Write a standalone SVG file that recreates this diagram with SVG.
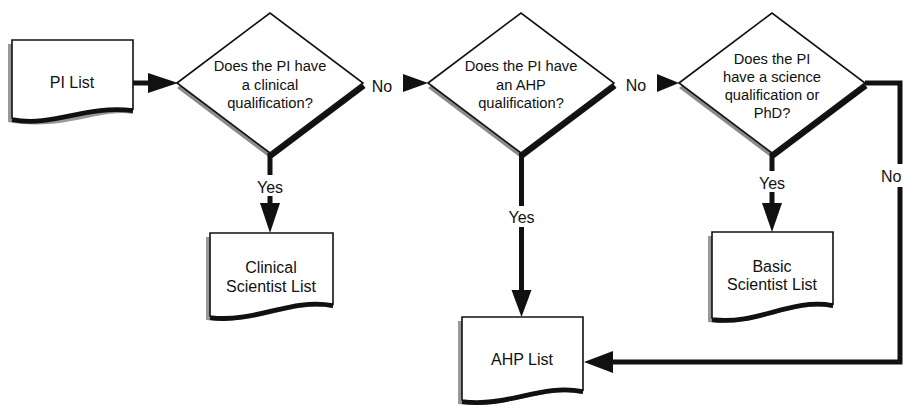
<svg xmlns="http://www.w3.org/2000/svg" width="903" height="406" viewBox="0 0 903 406">
<style>
text{font-family:"Liberation Sans",Arial,sans-serif;fill:#111;text-anchor:middle}
.q{font-size:14.7px}
.t{font-size:16px}
.lbl{font-size:16px}
.dshadow{fill:#8a8a8a}
.dedge{fill:none;stroke:#111;stroke-width:5}
.shape{fill:#fff;stroke:#111;stroke-width:1.6}
.docshadow{fill:#999}
.wave{fill:none;stroke:#111;stroke-width:4}
.line{fill:none;stroke:#111;stroke-width:5}
.head{fill:#111}
</style>
<rect width="903" height="406" fill="#fff"/>

<g id="pi-list">
<path class="docshadow" d="M8,44 H133 V114 C100,108 65,132 8,122 Z"/>
<path class="shape" d="M12,40 H133 V109 C85,103 54,126 12,118 Z"/>
<path class="wave" d="M133,111 C85,105 54,128 12,120"/>
<text class="t" x="72" y="88">PI List</text>
</g>

<g id="decision-clinical">
<polygon class="dshadow" points="177,88 270,158 363,88 270,18"/>
<line class="dedge" x1="364" y1="86" x2="271" y2="156"/>
<polygon class="shape" points="177,83 270,13 363,83 270,153"/>
<text class="q" x="270" y="71">Does the PI have</text>
<text class="q" x="270" y="89.5">a clinical</text>
<text class="q" x="270" y="108">qualification?</text>
</g>

<g id="decision-ahp">
<polygon class="dshadow" points="428,88 521,158 614,88 521,18"/>
<line class="dedge" x1="615" y1="86" x2="522" y2="156"/>
<polygon class="shape" points="428,83 521,13 614,83 521,153"/>
<text class="q" x="521" y="71">Does the PI have</text>
<text class="q" x="521" y="89.5">an AHP</text>
<text class="q" x="521" y="108">qualification?</text>
</g>

<g id="decision-science">
<polygon class="dshadow" points="679,88 772,158 865,88 772,18"/>
<line class="dedge" x1="866" y1="86" x2="773" y2="156"/>
<polygon class="shape" points="679,83 772,13 865,83 772,153"/>
<text class="q" x="772" y="63.5">Does the PI</text>
<text class="q" x="772" y="81.7">have a science</text>
<text class="q" x="772" y="100">qualification or</text>
<text class="q" x="772" y="118">PhD?</text>
</g>

<g id="clinical-list">
<path class="docshadow" d="M206,237 H333 V308 C290,300 260,326 206,320 Z"/>
<path class="shape" d="M210,233 H333 V304 C290,296 255,322 210,316 Z"/>
<path class="wave" d="M333,306 C290,298 255,324 210,318"/>
<text class="t" x="271" y="273">Clinical</text>
<text class="t" x="271" y="291.5">Scientist List</text>
</g>

<g id="ahp-list">
<path class="docshadow" d="M458,321 H583 V394 C540,386 510,410 458,404 Z"/>
<path class="shape" d="M462,317 H583 V390 C540,382 508,406 462,400 Z"/>
<path class="wave" d="M583,392 C540,384 508,408 462,402"/>
<text class="t" x="522" y="365">AHP List</text>
</g>

<g id="basic-list">
<path class="docshadow" d="M708,236 H833 V308 C790,300 760,328 708,322 Z"/>
<path class="shape" d="M712,232 H833 V304 C790,296 758,324 712,318 Z"/>
<path class="wave" d="M833,306 C790,298 758,326 712,320"/>
<text class="t" x="772" y="271.7">Basic</text>
<text class="t" x="772" y="290">Scientist List</text>
</g>

<g id="connectors">
<line class="line" x1="133" y1="83" x2="150" y2="83"/>
<polygon class="head" points="148,73 178,83 148,93"/>

<text class="lbl" x="382" y="91.5">No</text>
<polygon class="head" points="403,74 428,83 403,92"/>

<text class="lbl" x="636" y="90.5">No</text>
<polygon class="head" points="657,74 679,83 657,92"/>

<line class="line" x1="270" y1="153" x2="270" y2="175"/>
<text class="lbl" x="270" y="193">Yes</text>
<line class="line" x1="270" y1="196" x2="270" y2="205"/>
<polygon class="head" points="260,203 280,203 270,233"/>

<line class="line" x1="521.5" y1="153" x2="521.5" y2="206"/>
<text class="lbl" x="521.5" y="223">Yes</text>
<line class="line" x1="521.5" y1="227" x2="521.5" y2="292"/>
<polygon class="head" points="511.5,290 531.5,290 521.5,317"/>

<line class="line" x1="772" y1="153" x2="772" y2="171"/>
<text class="lbl" x="772" y="189">Yes</text>
<line class="line" x1="772" y1="192" x2="772" y2="205"/>
<polygon class="head" points="762,203 782,203 772,232"/>

<polyline class="line" points="865,83 900,83 900,164"/>
<text class="lbl" x="881" y="182" style="text-anchor:start">No</text>
<polyline class="line" points="900,187 900,362 611,362"/>
<polygon class="head" points="613,351 584,362 613,373"/>
</g>
</svg>
